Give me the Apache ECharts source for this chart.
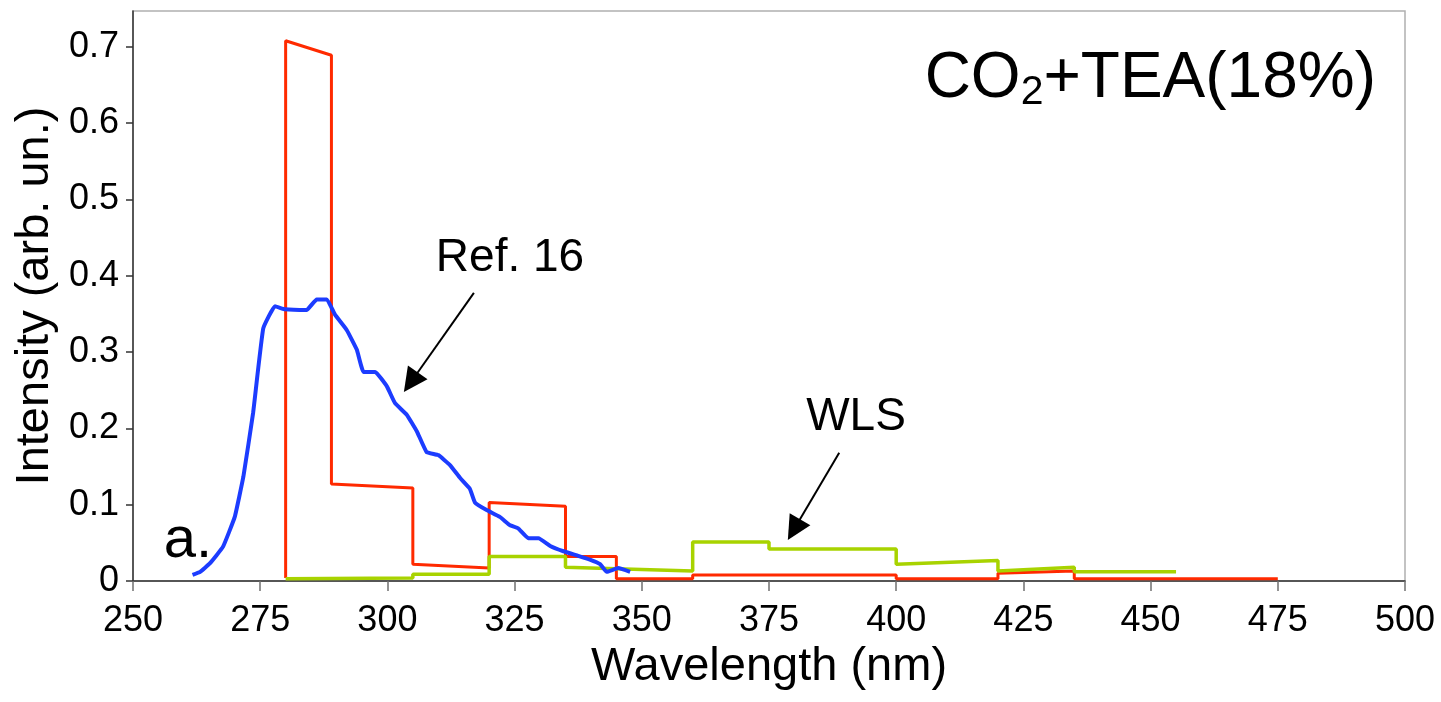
<!DOCTYPE html>
<html>
<head>
<meta charset="utf-8">
<title>CO2+TEA(18%) emission spectrum</title>
<script src="https://cdn.jsdelivr.net/npm/echarts@6/dist/echarts.min.js"></script>
<style>
  html, body { margin: 0; padding: 0; background: #ffffff; }
  #chart { width: 1441px; height: 702px; }
</style>
</head>
<body>
<div id="chart"></div>
<script>
// Binned spectrum, CO2+TEA(18%) (red): step outline, wavelength in nm
const measuredX = [280, 280, 289, 289, 305, 305, 320, 320, 335, 335, 345, 345, 360, 360, 400, 400, 420, 420, 435, 435, 475];
const measuredY = [0.004, 0.708, 0.689, 0.127, 0.122, 0.022, 0.017, 0.103, 0.098, 0.032, 0.032, 0.003, 0.003, 0.008, 0.008, 0.003, 0.003, 0.010, 0.013, 0.003, 0.003];

// Binned spectrum seen through the wavelength shifter (green)
const wlsX = [280, 305, 305, 320, 320, 335, 335, 360, 360, 375, 375, 400, 400, 420, 420, 435, 435, 455];
const wlsY = [0.003, 0.004, 0.009, 0.009, 0.032, 0.032, 0.018, 0.013, 0.051, 0.051, 0.042, 0.042, 0.022, 0.027, 0.013, 0.018, 0.012, 0.012];

// Ref. 16 spectrum (blue)
const refX = [261.7, 263.2, 265.1, 267.7, 270.0, 271.7, 273.6, 275.6, 277.9, 279.9, 284.1, 286.1, 288.1, 289.7, 292.0, 294.0, 295.3, 297.6, 299.9, 301.5, 303.8, 305.8, 307.7, 310.0, 312.3, 314.3, 316.2, 317.2, 319.5, 322.1, 324.1, 325.7, 327.7, 329.7, 332.0, 334.6, 337.5, 339.8, 341.8, 343.1, 345.4, 347.7];
const refY = [0.008, 0.012, 0.023, 0.045, 0.084, 0.137, 0.220, 0.331, 0.360, 0.356, 0.355, 0.369, 0.369, 0.349, 0.329, 0.303, 0.274, 0.274, 0.255, 0.233, 0.218, 0.196, 0.169, 0.165, 0.152, 0.135, 0.121, 0.103, 0.093, 0.084, 0.073, 0.069, 0.056, 0.056, 0.046, 0.039, 0.033, 0.028, 0.022, 0.012, 0.017, 0.012];

// Axis ticks
const yTicks = [0, 0.1, 0.2, 0.3, 0.4, 0.5, 0.6, 0.7];
const xTicks = [250, 275, 300, 325, 350, 375, 400, 425, 450, 475, 500];

// Text annotations [x, y, text] and their arrows [[fromX, fromY], [headX, headY]]
const notes = [[324.1, 0.423, 'Ref. 16'], [392.1, 0.214, 'WLS']];
const panelTag = [[260.8, 0.052, 'a.']];
const arrows = [[[317.0, 0.3775], [304.6, 0.2605]], [[388.8, 0.168], [379.9, 0.0674]]];

const FONT = '"Liberation Sans", Arial, Helvetica, sans-serif';
const zip = (xs, ys) => xs.map((x, i) => [x, ys[i]]);

// Arrow drawn from a data-space start point to a data-space arrowhead centre
const arrowLine = seg => ({
  silent: true,
  symbol: ['none', 'triangle'],
  symbolSize: 24,
  label: { show: false },
  emphasis: { disabled: true },
  itemStyle: { color: '#000000' },
  lineStyle: { color: '#000000', width: 2, type: 'solid' },
  data: [[{ coord: seg[0] }, { coord: seg[1] }]]
});

// Plain text placed at a data-space point
const textSeries = (name, data, size) => ({
  name: name,
  type: 'scatter',
  data: data,
  symbolSize: 0,
  itemStyle: { color: '#000000' },
  silent: true,
  z: 5,
  label: {
    show: true,
    position: 'inside',
    formatter: p => p.data[2],
    fontFamily: FONT,
    fontSize: size,
    color: '#000000',
    opacity: 1
  },
  emphasis: { disabled: true }
});

const chart = echarts.init(document.getElementById('chart'), null, { renderer: 'canvas' });

chart.setOption({
  animation: false,
  backgroundColor: '#ffffff',
  title: {
    text: '{a|CO}{s|2}{a|+TEA(18%)}',
    right: 60,
    top: 38,
    textStyle: {
      fontWeight: 'normal',
      rich: {
        a: { fontFamily: FONT, fontSize: 64, fontWeight: 'normal', lineHeight: 72, color: '#000000' },
        s: { fontFamily: FONT, fontSize: 41, fontWeight: 'normal', lineHeight: 40, color: '#000000', verticalAlign: 'bottom', padding: [0, 0, 2, 0] }
      }
    }
  },
  grid: {
    left: 133, right: 36, top: 11, bottom: 121,
    show: true, borderColor: '#b0b0b0', borderWidth: 1.5, backgroundColor: 'transparent'
  },
  xAxis: {
    type: 'value',
    min: 250, max: 500, interval: 25,
    name: 'Wavelength (nm)',
    nameLocation: 'middle',
    nameGap: 62,
    nameTextStyle: { fontFamily: FONT, fontSize: 47, color: '#000000' },
    axisLine: { show: true, lineStyle: { color: '#333333', width: 1.5 } },
    axisTick: { show: true, length: 10, lineStyle: { color: '#707070', width: 1.5 }, customValues: xTicks },
    axisLabel: { fontFamily: FONT, fontSize: 36, color: '#000000', margin: 22, customValues: xTicks },
    splitLine: { show: false }
  },
  yAxis: {
    type: 'value',
    min: 0, max: 0.747,
    name: 'Intensity (arb. un.)',
    nameLocation: 'middle',
    nameGap: 72,
    nameTextStyle: { fontFamily: FONT, fontSize: 47, color: '#000000' },
    axisLine: { show: true, lineStyle: { color: '#333333', width: 1.5 } },
    axisTick: { show: true, length: 7, lineStyle: { color: '#333333', width: 1.5 }, customValues: yTicks },
    axisLabel: { fontFamily: FONT, fontSize: 36, color: '#000000', margin: 14, customValues: yTicks },
    splitLine: { show: false }
  },
  series: [
    {
      name: 'CO2+TEA(18%)',
      type: 'line',
      data: zip(measuredX, measuredY),
      showSymbol: false,
      symbol: 'none',
      lineStyle: { color: '#ff2a00', width: 3 },
      z: 2
    },
    {
      name: 'WLS',
      type: 'line',
      data: zip(wlsX, wlsY),
      showSymbol: false,
      symbol: 'none',
      lineStyle: { color: '#a8d300', width: 3.5 },
      z: 3,
      markLine: arrowLine(arrows[1])
    },
    {
      name: 'Ref. 16',
      type: 'line',
      data: zip(refX, refY),
      showSymbol: false,
      symbol: 'none',
      smooth: 0.1,
      lineStyle: { color: '#1c3cff', width: 4 },
      z: 4,
      markLine: arrowLine(arrows[0])
    },
    textSeries('notes', notes, 46),
    textSeries('panel', panelTag, 58)
  ]
});
</script>
</body>
</html>
